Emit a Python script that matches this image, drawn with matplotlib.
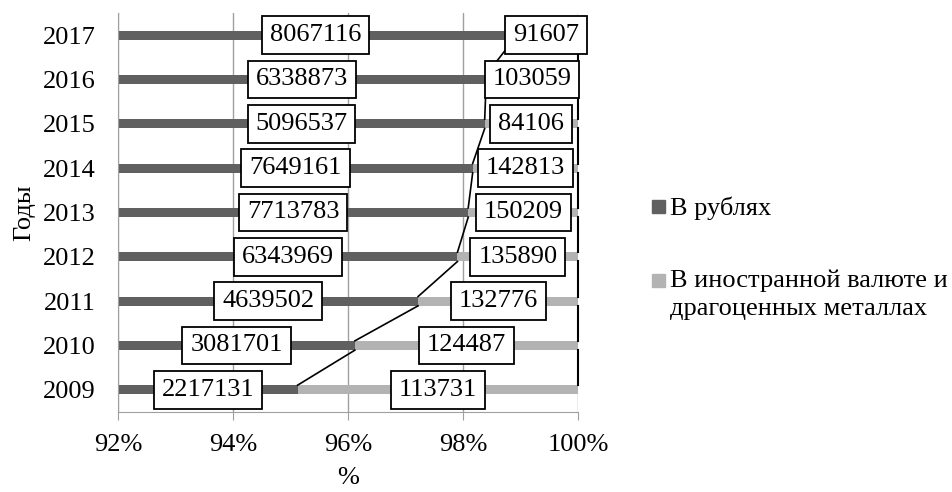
import numpy as np
import matplotlib.pyplot as plt
from matplotlib.patches import Rectangle

plt.rcParams['font.family'] = ['Liberation Serif', 'DejaVu Serif']

# Данные
years = ['2009', '2010', '2011', '2012', '2013', '2014', '2015', '2016', '2017']
rub = [2217131, 3081701, 4639502, 6343969, 7713783, 7649161, 5096537, 6338873, 8067116]
fx = [113731, 124487, 132776, 135890, 150209, 142813, 84106, 103059, 91607]
names = ['В рублях', 'В иностранной валюте и\nдрагоценных металлах']
colors = ['#606060', '#b3b3b3']

rub = np.array(rub, dtype=float)
fx = np.array(fx, dtype=float)
total = rub + fx
share_rub = rub / total * 100
share_fx = fx / total * 100

y = np.arange(len(years))
h = 0.21
xmin, xmax = 92, 100
fs = 19

fig = plt.figure(figsize=(9.53, 4.92), dpi=100)
ax = fig.add_axes([0.1241, 0.1626, 0.4824, 0.811])

ax.barh(y, share_rub, height=h, color=colors[0], zorder=2)
ax.barh(y, share_fx, left=share_rub, height=h, color=colors[1], zorder=2)

# линии рядов
for i in range(len(years) - 1):
    ax.plot([share_rub[i], share_rub[i + 1]], [y[i] + h / 2, y[i + 1] - h / 2],
            color='black', lw=1.2, zorder=3)
    ax.plot([100, 100], [y[i] + h / 2, y[i + 1] - h / 2], color='black', lw=1.5,
            zorder=3, clip_on=False)

# подписи данных
box = dict(boxstyle='square,pad=0.3', fc='white', ec='black', lw=1.3)
for i in range(len(years)):
    cx1 = (xmin + share_rub[i]) / 2
    cx2 = (share_rub[i] + 100) / 2
    ax.text(cx1, y[i], f'{int(rub[i])}', ha='center', va='center', fontsize=fs,
            bbox=box, zorder=4)
    ax.text(cx2, y[i], f'{int(fx[i])}', ha='center', va='center', fontsize=fs,
            bbox=box, zorder=4, clip_on=False)

ax.set_xlim(xmin, xmax)
ax.set_ylim(-0.5, len(years) - 0.5)
ax.set_xticks(np.arange(92, 101, 2))
ax.set_xticklabels([f'{v}%' for v in range(92, 101, 2)])
ax.set_yticks(y)
ax.set_yticklabels(years)
ax.tick_params(axis='x', labelsize=fs, length=6, color='#a0a0a0', pad=10)
ax.tick_params(axis='y', labelsize=fs, length=0, pad=16)
ax.grid(axis='x', color='#a0a0a0', lw=1, zorder=0)
for s in ['top', 'right']:
    ax.spines[s].set_visible(False)
for s in ['left', 'bottom']:
    ax.spines[s].set_color('#a0a0a0')

ax.set_xlabel('%', fontsize=fs, labelpad=8)
ax.set_ylabel('Годы', fontsize=fs, labelpad=6)

# легенда
W, H = fig.get_size_inches() * fig.dpi
for k, (yc, name) in enumerate(zip([206, 280], names)):
    fig.patches.append(Rectangle((652 / W, 1 - (yc + 7) / H), 13 / W, 13 / H,
                                 transform=fig.transFigure, color=colors[k]))
    fig.text(670 / W, 1 - (yc - 10) / H, name, fontsize=fs, va='top', ha='left',
             linespacing=1.3)

plt.savefig('out.png', dpi=100)
